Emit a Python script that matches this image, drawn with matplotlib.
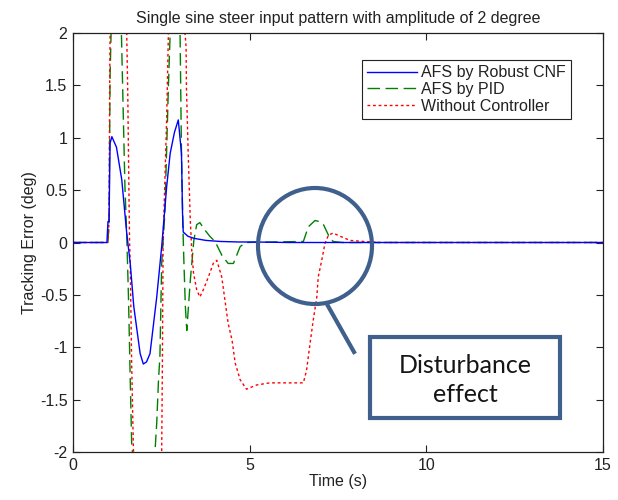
import matplotlib
matplotlib.use("Agg")
import matplotlib.pyplot as plt
from matplotlib.patches import Ellipse, Rectangle
from matplotlib.lines import Line2D

plt.rcParams['font.family'] = ['Liberation Sans', 'DejaVu Sans']

# ---- data ----
t_cnf = [0, 0.96, 0.99, 1.02, 1.05, 1.10, 1.23, 1.38, 1.52, 1.62, 1.72, 1.90, 1.99, 2.08,
         2.18, 2.37, 2.51, 2.65, 2.75, 2.87, 2.98, 3.07, 3.10, 3.12, 3.25, 3.42, 3.76,
         4.16, 4.68, 5.09, 6.10, 15]
y_cnf = [0, 0, 0.2, 0.2, 0.95, 1.01, 0.91, 0.6, 0.09, -0.2, -0.61, -1.06, -1.16, -1.14,
         -1.06, -0.52, -0.04, 0.53, 0.85, 1.05, 1.17, 0.85, 0.28, 0.10, 0.06, 0.04, 0.02,
         0.01, 0.005, 0.005, 0, 0]

t_pid = [0, 0.99, 1.02, 1.05, 1.12, 1.27, 1.37, 1.47, 1.52, 1.57, 1.62, 1.66, 1.83, 2.03,
         2.24, 2.32, 2.37, 2.42, 2.46, 2.51, 2.60, 2.70, 2.75, 2.90, 3.03, 3.07, 3.11,
         3.14, 3.18, 3.22, 3.32, 3.42, 3.50, 3.59, 3.73, 3.87, 4.02, 4.21, 4.39, 4.54,
         4.73, 4.88, 6.52, 6.66, 6.85, 6.97, 7.09, 7.23, 7.36, 7.63, 15]
y_pid = [0, 0, 0.2, 1.6, 2.6, 2.8, 2.0, 0.53, 0.08, -0.52, -1.31, -1.91, -2.6, -2.8,
         -2.4, -2.0, -1.72, -1.31, -1.09, -0.2, 0.28, 1.49, 2.0, 2.6, 2.0, 0.85, 0.15,
         -0.2, -0.61, -0.84, -0.36, 0.02, 0.17, 0.19, 0.12, 0.06, 0.01, -0.12, -0.2, -0.2,
         -0.04, 0, 0.01, 0.15, 0.21, 0.2, 0.17, 0.07, 0.01, 0, 0]

t_none = [0, 0.99, 1.02, 1.04, 1.06, 1.22, 1.42, 1.52, 1.55, 1.57, 1.60, 1.62, 1.66, 1.71,
          1.83, 2.14, 2.44, 2.51, 2.53, 2.55, 2.65, 2.70, 2.85, 3.05, 3.17, 3.20, 3.21,
          3.26, 3.32, 3.36, 3.41, 3.50, 3.59, 3.69, 3.83, 3.97, 4.07, 4.21, 4.30, 4.39,
          4.50, 4.59, 4.73, 4.91, 5.20, 5.57, 6.52, 6.61, 6.71, 6.80, 6.90, 6.94, 7.04,
          7.13, 7.23, 7.36, 7.56, 7.84, 8.22, 8.64, 15]
y_none = [0, 0, 0.2, 1.6, 2.4, 3.0, 2.8, 2.0, 1.42, 0.85, 0.02, -0.2, -1.15, -1.98,
          -2.6, -3.0, -2.6, -2.0, -1.15, 0, 1.17, 2.0, 2.8, 2.6, 2.0, 1.87, 1.49, 0.85,
          0.21, -0.07, -0.29, -0.45, -0.52, -0.45, -0.33, -0.2, -0.17, -0.33, -0.55,
          -0.77, -0.93, -1.15, -1.31, -1.40, -1.36, -1.34, -1.34, -1.22, -0.96, -0.74,
          -0.52, -0.33, -0.17, -0.01, 0.07, 0.09, 0.06, 0.02, 0.01, 0, 0]

series_labels = ['AFS by Robust CNF', 'AFS by PID', 'Without Controller']
x_ticks = [0, 5, 10, 15]
y_ticks = [-2, -1.5, -1, -0.5, 0, 0.5, 1, 1.5, 2]
y_tick_labels = ['-2', '-1.5', '-1', '-0.5', '0', '0.5', '1', '1.5', '2']

# ---- figure ----
W, H = 618, 500
fig = plt.figure(figsize=(W / 100, H / 100), dpi=100)
ax = fig.add_axes([73 / W, 1 - 452 / H, (603 - 73) / W, (452 - 33) / H])

ax.plot(t_cnf, y_cnf, color='#0000ff', lw=1.0, label=series_labels[0], zorder=3)
ax.plot(t_pid, y_pid, color='#008000', lw=1.0, dashes=(9, 4), label=series_labels[1], zorder=2)
ax.plot(t_none, y_none, color='#ff0000', lw=1.0, dashes=(2, 2), label=series_labels[2], zorder=2)

ax.set_xlim(0, 15)
ax.set_ylim(-2, 2)
ax.set_xticks(x_ticks)
ax.set_xticklabels([str(v) for v in x_ticks])
ax.set_yticks(y_ticks)
ax.set_yticklabels(y_tick_labels)
ax.tick_params(direction='in', length=5, width=0.8, top=True, right=True,
               labelsize=11.5, colors='#222222', pad=4)
for s in ax.spines.values():
    s.set_linewidth(0.9)
    s.set_color('#222222')

ax.set_title('Single sine steer input pattern with amplitude of 2 degree',
             fontsize=11.5, color='#222222', pad=7)
ax.set_xlabel('Time (s)', fontsize=11.5, color='#222222', labelpad=1)
ax.set_ylabel('Tracking Error (deg)', fontsize=11.5, color='#222222', labelpad=2)

leg = ax.legend(loc='upper right', bbox_to_anchor=(0.94, 0.936), borderaxespad=0,
                fontsize=11.5, handlelength=3.1, handletextpad=0.25, labelspacing=0.1,
                borderpad=0.35, fancybox=False, framealpha=1, edgecolor='#222222')
leg.get_frame().set_linewidth(0.8)
for txt in leg.get_texts():
    txt.set_color('#222222')

# ---- annotation (figure pixel coordinates converted to fractions) ----
ac = '#3f5f8c'
circ = Ellipse((315 / W, 1 - 246 / H), 114 / W, 116 / H, transform=fig.transFigure,
               fill=False, edgecolor=ac, lw=3.0, zorder=10)
fig.add_artist(circ)
fig.add_artist(Line2D([328 / W, 354 / W], [1 - 306 / H, 1 - 352 / H],
                      transform=fig.transFigure, color=ac, lw=3.0, zorder=10))
box = Rectangle((370 / W, 1 - 418 / H), 190 / W, 81 / H, transform=fig.transFigure,
                facecolor='white', edgecolor=ac, lw=3.0, zorder=10)
fig.add_artist(box)
fig.text(465 / W, 1 - 380 / H, 'Disturbance\neffect', ha='center', va='center',
         fontsize=18, family=['Lato', 'DejaVu Sans'], fontweight='normal',
         color='#151515', linespacing=1.3, zorder=11)

fig.savefig('out.png', dpi=100)
